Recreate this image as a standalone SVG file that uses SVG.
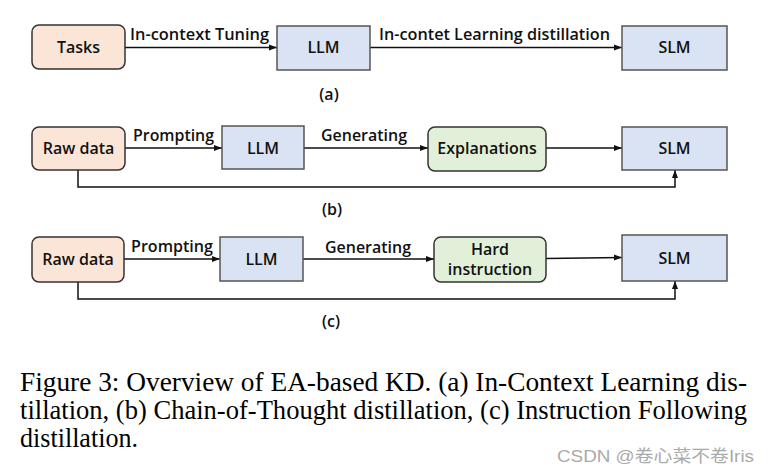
<svg xmlns="http://www.w3.org/2000/svg" width="770" height="475" viewBox="0 0 770 475">
<style>
.lbl{font-family:"Open Sans","Noto Sans",sans-serif;font-weight:600;font-size:16px;fill:#111}
.c{text-anchor:middle}
.peach{fill:#fbe5d6;stroke:#333;stroke-width:1.5}
.blue{fill:#dae3f3;stroke:#555;stroke-width:1.5}
.green{fill:#e2f0d9;stroke:#333;stroke-width:1.5}
.ln{fill:none;stroke:#111;stroke-width:1.5}
.cap{font-family:"Liberation Serif","Times New Roman",serif;font-size:26.5px;fill:#000}
.wm{font-family:"Liberation Sans","Noto Sans CJK SC",sans-serif;font-size:17px;fill:#aaa}
</style>
<defs>
<marker id="ah" viewBox="0 0 8 8" refX="8" refY="4" markerWidth="8" markerHeight="8" markerUnits="userSpaceOnUse" orient="auto">
<path d="M0,1 L8,4 L0,7 z" fill="#111"/>
</marker>
</defs>

<g id="connectors">
<line class="ln" x1="125" y1="47.5" x2="277" y2="47.5" marker-end="url(#ah)"/>
<line class="ln" x1="370" y1="47.5" x2="622" y2="47.5" marker-end="url(#ah)"/>
<line class="ln" x1="125" y1="148" x2="222" y2="148" marker-end="url(#ah)"/>
<line class="ln" x1="304" y1="148" x2="428" y2="148" marker-end="url(#ah)"/>
<line class="ln" x1="546" y1="148" x2="622" y2="148" marker-end="url(#ah)"/>
<polyline class="ln" points="78,170 78,187 675,187 675,170" marker-end="url(#ah)"/>
<line class="ln" x1="124" y1="259" x2="220" y2="259" marker-end="url(#ah)"/>
<line class="ln" x1="303" y1="259" x2="434" y2="259" marker-end="url(#ah)"/>
<line class="ln" x1="546" y1="258.5" x2="622" y2="257.5" marker-end="url(#ah)"/>
<polyline class="ln" points="78,282 78,299 675,299 675,281" marker-end="url(#ah)"/>
<text class="lbl" x="130" y="40" textLength="139" lengthAdjust="spacingAndGlyphs">In-context Tuning</text>
<text class="lbl" x="379" y="40" textLength="231" lengthAdjust="spacingAndGlyphs">In-contet Learning distillation</text>
<text class="lbl" x="133" y="141" textLength="81" lengthAdjust="spacingAndGlyphs">Prompting</text>
<text class="lbl" x="321" y="141" textLength="86" lengthAdjust="spacingAndGlyphs">Generating</text>
<text class="lbl" x="131" y="252" textLength="82" lengthAdjust="spacingAndGlyphs">Prompting</text>
<text class="lbl" x="325" y="253" textLength="86" lengthAdjust="spacingAndGlyphs">Generating</text>
</g>

<g id="a-tasks"><rect class="peach" x="32" y="25" width="93" height="44" rx="7"/><text class="lbl c" x="78.5" y="53">Tasks</text></g>
<g id="a-llm"><rect class="blue" x="277" y="26" width="93" height="44"/><text class="lbl c" x="323.5" y="53">LLM</text></g>
<g id="a-slm"><rect class="blue" x="622" y="26" width="105" height="44"/><text class="lbl c" x="674.5" y="53">SLM</text></g>
<text class="lbl c" x="329" y="100">(a)</text>

<g id="b-raw"><rect class="peach" x="32" y="127" width="93" height="43" rx="7"/><text class="lbl c" x="78.5" y="154">Raw data</text></g>
<g id="b-llm"><rect class="blue" x="222" y="126" width="82" height="43"/><text class="lbl c" x="263" y="154">LLM</text></g>
<g id="b-exp"><rect class="green" x="428" y="127" width="118" height="44" rx="7"/><text class="lbl c" x="487" y="154">Explanations</text></g>
<g id="b-slm"><rect class="blue" x="622" y="127" width="105" height="43"/><text class="lbl c" x="674.5" y="154">SLM</text></g>
<text class="lbl c" x="332" y="215">(b)</text>

<g id="c-raw"><rect class="peach" x="32" y="237" width="92" height="45" rx="7"/><text class="lbl c" x="78" y="265">Raw data</text></g>
<g id="c-llm"><rect class="blue" x="220" y="237" width="83" height="44"/><text class="lbl c" x="261.5" y="265">LLM</text></g>
<g id="c-hard"><rect class="green" x="434" y="237" width="112" height="45" rx="7"/><text class="lbl c" x="490" y="255">Hard</text><text class="lbl c" x="490" y="275">instruction</text></g>
<g id="c-slm"><rect class="blue" x="622" y="235" width="105" height="46"/><text class="lbl c" x="674.5" y="264">SLM</text></g>
<text class="lbl c" x="331" y="327">(c)</text>

<g id="caption">
<text class="cap" x="20" y="391" textLength="727" lengthAdjust="spacingAndGlyphs">Figure 3: Overview of EA-based KD. (a) In-Context Learning dis-</text>
<text class="cap" x="20" y="419" textLength="727" lengthAdjust="spacingAndGlyphs">tillation, (b) Chain-of-Thought distillation, (c) Instruction Following</text>
<text class="cap" x="20" y="447" textLength="118" lengthAdjust="spacingAndGlyphs">distillation.</text>
</g>
<text class="wm" x="557" y="462" textLength="197" lengthAdjust="spacingAndGlyphs">CSDN @卷心菜不卷Iris</text>
</svg>
